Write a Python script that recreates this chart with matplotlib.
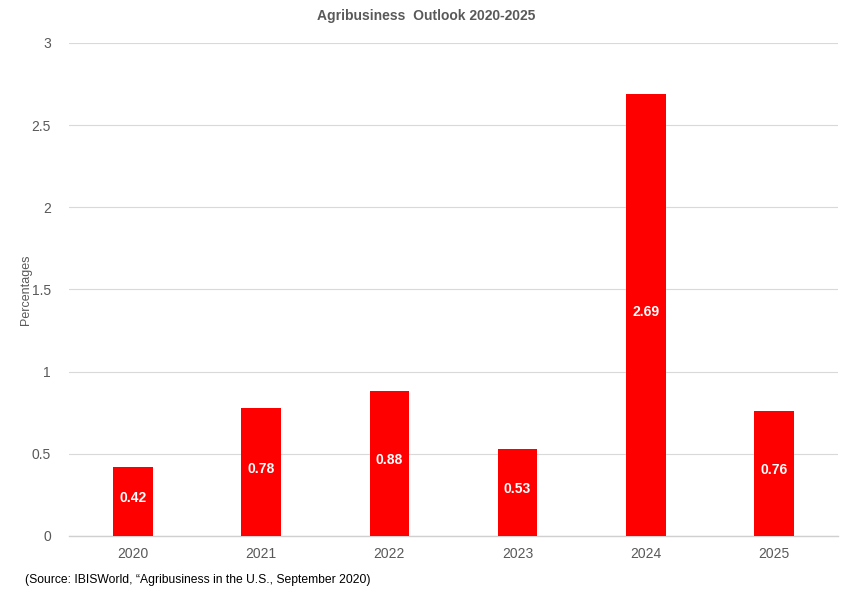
import matplotlib
matplotlib.use("Agg")
import matplotlib.pyplot as plt

years = ["2020", "2021", "2022", "2023", "2024", "2025"]
values = [0.42, 0.78, 0.88, 0.53, 2.69, 0.76]
yticks = [0, 0.5, 1, 1.5, 2, 2.5, 3]
ytick_labels = ["0", "0.5", "1", "1.5", "2", "2.5", "3"]

plt.rcParams['font.family'] = ['Liberation Sans', 'DejaVu Sans']
grey = "#595959"

fig = plt.figure(figsize=(8.53, 5.96), dpi=100)
ax = fig.add_axes([0.0809, 0.1007, 0.9015, 0.8272])

x = list(range(len(years)))
bars = ax.bar(x, values, width=0.31, color="#ff0000", zorder=3)
for xi, v in zip(x, values):
    ax.text(xi, v / 2 + 0.02, f"{v:.2f}", ha="center", va="center", color="white",
            fontsize=10, fontweight="bold", zorder=4)

ax.set_xlim(-0.5, len(years) - 0.5)
ax.set_ylim(0, 3)
ax.set_xticks(x)
ax.set_xticklabels(years)
ax.set_yticks(yticks)
ax.set_yticklabels(ytick_labels)
ax.tick_params(axis="both", length=0, colors=grey, labelsize=10)
ax.tick_params(axis="y", pad=13)
ax.tick_params(axis="x", pad=8)
ax.grid(axis="y", color="#d9d9d9", linewidth=0.8, zorder=0)
for s in ["top", "right", "left"]:
    ax.spines[s].set_visible(False)
ax.spines["bottom"].set_color("#d0d0d0")
ax.spines["bottom"].set_linewidth(1.0)

ax.set_ylabel("Percentages", color=grey, fontsize=9)
ax.yaxis.set_label_coords(-0.048, 0.5)
fig.suptitle("Agribusiness  Outlook 2020-2025", x=0.5, y=0.985, color=grey,
             fontsize=10, fontweight="bold")
fig.text(25 / 853, 1 - 580 / 596, "(Source: IBISWorld, \u201cAgribusiness in the U.S., September 2020)",
         color="#000000", fontsize=8.7, va="center", ha="left")

fig.savefig("out.png", dpi=100)
